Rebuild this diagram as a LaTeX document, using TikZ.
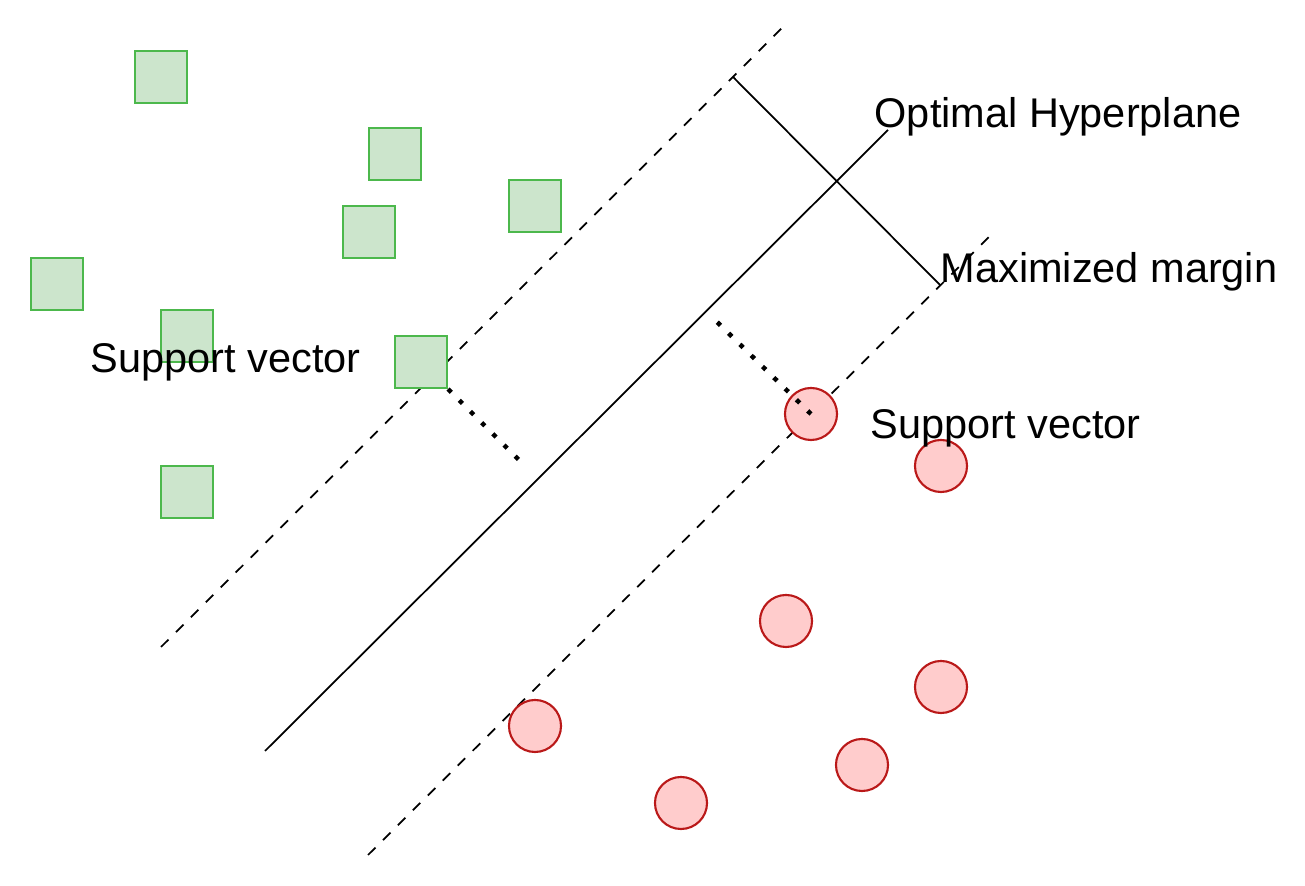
\documentclass[tikz,border=0pt]{standalone}
\usepackage{fontspec}
\setmainfont{Liberation Sans}
\usetikzlibrary{backgrounds}
\tikzset{
  Sq/.style={rectangle,draw=green!60!black!70,fill=green!50!black!20,line width=0.6pt,minimum size=0.52cm,inner sep=0pt},
  Cir/.style={circle,draw=red!70!black!90,fill=red!20,line width=0.6pt,minimum size=0.52cm,inner sep=0pt},
  Lbl/.style={anchor=west,font=\fontsize{11.8}{14}\selectfont,inner sep=0pt}
}
\begin{document}
\begin{tikzpicture}[x=0.01cm,y=-0.01cm]
    \useasboundingbox (0,0) rectangle (1305,886);
    % green class
    \foreach \n/\p in {g1/{161,77},g2/{395,154},g3/{535,206},g4/{369,232},g5/{57,284},g6/{187,336},g7/{187,492}}
      \node[Sq] (\n) at (\p) {};
    \node[Sq] (sv1) at (421,362) {};
    % red class
    \foreach \n/\p in {r1/{941,466},r2/{786,621},r3/{941,687},r4/{535,726},r5/{862,765},r6/{681,803}}
      \node[Cir] (\n) at (\p) {};
    \node[Cir] (sv2) at (811,414) {};
    % lines
    \coordinate (up1) at (161,647); \coordinate (up2) at (785,25);
    \coordinate (hp1) at (265,751); \coordinate (hp2) at (888,130);
    \coordinate (lo1) at (368,855); \coordinate (lo2) at (993,233);
    \coordinate (mg1) at (733,77);  \coordinate (mg2) at (940,285);
    \coordinate (d1) at (525,466);  \coordinate (d2) at (717,322);
    \begin{scope}[on background layer]
      \draw[dash pattern=on 3pt off 3pt,line width=0.5pt] (up1) -- (up2);
      \draw[dash pattern=on 3pt off 3pt,line width=0.5pt] (lo1) -- (lo2);
      \draw[line width=0.5pt] (hp1) -- (hp2);
      \draw[line width=0.5pt] (mg1) -- (mg2);
    \end{scope}
    \begin{scope}[dash pattern=on 1.3pt off 3.2pt,line width=1.3pt]
      \draw (sv1.south east) -- (d1);
      \draw (sv2.center) -- (d2);
    \end{scope}
    % labels
    \node[Lbl] (opt) at (874,117) {Optimal Hyperplane};
    \node[Lbl] (mar) at (940,272) {Maximized margin};
    \node[Lbl] (lsv1) at (90,362) {Support vector};
    \node[Lbl] (lsv2) at (870,428) {Support vector};
\end{tikzpicture}
\end{document}
